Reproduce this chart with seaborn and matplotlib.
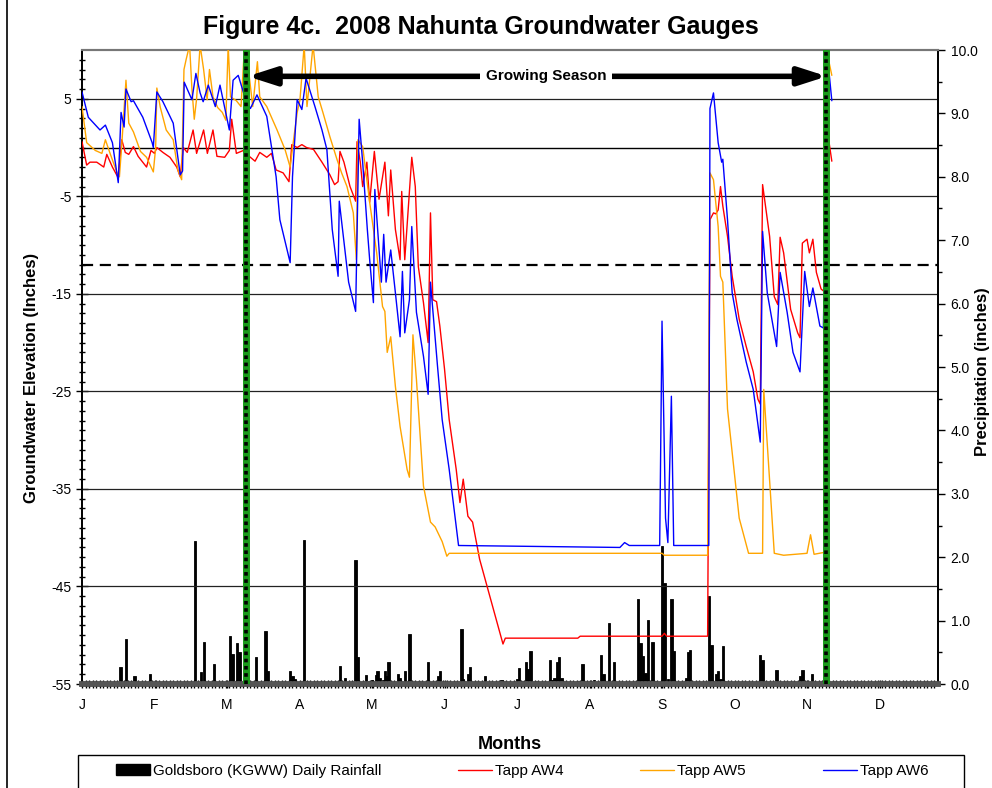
import numpy as np
import pandas as pd
import matplotlib
matplotlib.use('Agg')
import matplotlib.pyplot as plt
from matplotlib.lines import Line2D
from matplotlib.patches import Patch, Rectangle
import seaborn as sns

# Tapp AW4 (red) - day of year, groundwater elevation (inches)
aw4_day = [0, 2, 3.4, 6.3, 9.3, 10.6, 13, 15.5, 17, 18.5, 20, 22, 24, 27.6, 29.5, 31, 32, 34.6, 37.6, 40.5,
           42, 43.3, 45, 47.5, 49, 52, 53.6, 56, 57.7, 61, 63, 64, 66, 69, 71, 74, 76, 79, 81, 83,
           86, 88.5, 89.7, 92, 94, 96, 99, 102.6, 106, 108, 109.5, 110.3, 112, 114.6, 117, 117.6, 119, 120, 121.8, 123,
           125, 127, 129.5, 131, 132, 134, 136, 136.7, 138, 141, 142.5, 143.8, 146, 148, 149, 150, 151.6, 153, 155, 157,
           160, 161.6, 163, 165, 167, 170, 180, 181, 212, 213, 248, 249, 250, 267.5, 268.5, 270, 271, 272, 273, 274,
           276, 278, 281, 284, 287, 289, 290, 291, 294, 296, 297.5, 298.5, 300, 303, 306, 307, 308, 310, 311, 312.5,
           314, 316, 317.5, 318.5, 319.5, 320.6]
aw4_val = [0.6, -1.8, -1.5, -1.5, -2.0, -0.7, -2.0, -3.1, 0.8, -0.5, -0.7, 0.1, -0.9, -2.0, -0.3, -0.6, 0.0, -0.5, -1.0, -2.0,
           -3.0, 0.0, -0.5, 1.8, -0.6, 1.8, -0.6, 1.8, -0.9, -1.0, -0.3, 2.9, -0.6, -0.3, -0.8, -1.4, -0.5, -1.0, -0.6, -2.3,
           -2.6, -3.5, 0.3, 0.0, 0.3, 0.0, -0.2, -1.5, -2.8, -3.8, -3.5, -0.4, -1.5, -4.0, -5.5, 0.6, -1.5, -4.0, -1.5, -5.6,
           -0.4, -5.3, -1.5, -7.0, -2.3, -8.4, -11.5, -4.5, -11.5, -1.0, -4.0, -12.2, -15.9, -20.0, -6.7, -15.6, -15.8, -18.3, -22.7, -27.9,
           -33.0, -36.4, -34.0, -37.8, -38.4, -42.2, -50.9, -50.3, -50.3, -50.1, -50.1, -49.8, -50.1, -50.1, -7.4, -6.7, -6.8, -6.4, -4.0, -6.0,
           -9.1, -13.2, -17.6, -20.4, -23.0, -25.8, -26.3, -3.8, -9.1, -15.3, -16.1, -9.2, -10.8, -16.6, -19.0, -19.5, -9.8, -9.4, -10.8, -9.4,
           -12.8, -14.5, -14.8, 3.3, 0.4, -1.4]

# Tapp AW5 (orange)
aw5_day = [0, 2, 5.7, 8.5, 10, 12, 15, 16, 17, 18.8, 20, 22, 23.5, 25, 27.6, 30.5, 31.5, 32, 33.5, 36,
           39, 41, 42.6, 43.6, 44.5, 46, 47, 48, 49, 50.5, 52, 53.5, 54.5, 56, 58, 60, 61.5, 62.5, 63.5, 66,
           68, 69.5, 70, 73, 75, 76, 79, 83.4, 86.8, 89, 90.2, 92, 93.2, 95, 96.2, 98.8, 101, 103, 106, 109,
           111, 113.3, 116, 117.3, 118, 120, 123, 126, 128.5, 129.5, 130.5, 132, 134, 136, 139, 140, 141.5, 143, 146, 149,
           151, 154, 156, 157, 248, 249, 267.5, 268.5, 270, 272, 273, 274, 276, 281, 285, 291, 291.5, 296, 300, 310,
           311.5, 313, 317.5, 318.5, 320.6]
aw5_val = [4.2, 0.5, -0.3, -0.6, 0.8, -0.6, -2.6, -3.0, 0.3, 6.9, 2.5, 1.6, 0.6, -0.4, -1.0, -2.5, 0.0, 6.1, 4.1, 1.8,
           0.8, -2.3, -3.3, 8.0, 9.0, 10.5, 6.0, 2.9, 5.0, 10.5, 8.0, 4.9, 8.0, 5.2, 4.1, 3.6, 2.8, 10.5, 5.2, 4.8,
           4.2, 10.5, 10.5, 4.2, 8.8, 5.2, 4.2, 1.8, -0.2, -2.0, 0.3, 3.6, 4.9, 10.5, 4.2, 10.5, 5.2, 3.6, 1.1, -1.2,
           -2.6, -4.0, -6.7, -11.5, 0.8, 0.1, -5.6, -10.8, -16.3, -16.8, -21.0, -19.4, -24.5, -28.6, -33.0, -33.8, -19.2, -23.8, -34.7, -38.4,
           -38.9, -40.4, -41.9, -41.6, -41.6, -41.8, -41.8, -2.6, -3.3, -8.1, -13.2, -13.8, -26.8, -38.0, -41.6, -41.6, -24.8, -41.6, -41.8, -41.6,
           -39.7, -41.7, -41.5, 9.8, 7.4]

# Tapp AW6 (blue)
aw6_day = [0, 2.7, 7.7, 10, 13, 15.5, 16.7, 18, 18.8, 21, 22, 26, 30, 30.5, 32, 34.6, 39, 42, 43, 43.7,
           47, 48.7, 50.5, 51.8, 54, 57, 59, 63, 64.6, 66.8, 70, 72, 74.8, 79, 83, 84.6, 89, 90, 92, 94,
           95.8, 99.6, 102.6, 104.7, 107, 109.5, 110, 114, 117, 118.5, 120, 122, 123, 124.6, 125.2, 128, 129, 130, 132, 134,
           136, 137, 138, 140, 141, 143, 146, 148, 149, 152, 154, 157, 161, 230, 232, 234, 247, 248, 249.5, 250.5,
           252, 253, 268, 268.5, 270, 272, 273.5, 274, 276, 278, 280, 284, 287, 290, 291, 293, 297, 298.5, 301.5, 304,
           307, 309, 311, 312.5, 315.5, 317, 318.5, 319.5, 320.6]
aw6_val = [5.7, 3.1, 1.8, 2.3, 0.5, -3.6, 3.6, 2.1, 6.0, 4.7, 4.8, 3.1, 0.5, 0.0, 5.7, 4.7, 2.5, -2.8, -2.4, 6.7,
           4.9, 7.6, 5.6, 4.7, 6.4, 4.2, 6.4, 1.8, 6.9, 7.4, 4.9, 4.0, 5.4, 3.2, -3.0, -7.4, -11.8, -3.0, 4.9, 3.9,
           7.1, 4.2, 1.8, -0.2, -8.4, -13.2, -5.5, -13.8, -16.8, 2.9, -1.5, -8.4, -11.5, -15.9, -4.3, -13.8, -8.9, -13.8, -10.5, -14.9,
           -19.4, -12.7, -19.0, -15.6, -8.1, -16.9, -21.4, -25.3, -13.8, -22.4, -27.9, -33.0, -40.8, -41.0, -40.5, -40.8, -40.8, -17.8, -38.0, -40.5,
           -25.5, -40.8, -40.8, 4.0, 5.6, 0.5, -1.5, -1.2, -7.4, -14.9, -17.6, -22.0, -24.8, -30.2, -8.6, -14.9, -20.4, -12.8, -16.9, -21.0,
           -23.0, -12.7, -16.3, -14.4, -18.3, -18.5, 5.0, 7.5, 4.8]

# Goldsboro (KGWW) daily rainfall (inches)
rain_day = [16.5, 18.7, 21.5, 22.5, 29, 37, 48.3, 51, 52.3, 53.5, 56.3, 60.5, 63.3, 64.4, 66.4, 67.4, 74.4, 76, 78.5, 79.3,
            89, 90, 91, 93.5, 95, 96, 110.3, 112.5, 113.5, 117, 118, 120, 121.4, 122.3, 124, 125.6, 126.4, 127.4, 128.6, 129.5,
            130.2, 131, 133, 135, 136, 138, 140, 144, 148, 152.3, 153, 162.3, 163, 165, 166, 172.3, 179.4, 186, 186.8, 188.5,
            189.8, 190.8, 191.8, 194, 200, 201, 202, 203, 204, 205, 212, 214, 219, 222, 223, 225.3, 227.5, 237.8, 238.8, 240,
            241, 242, 243, 244, 245.5, 248, 249, 250.5, 252, 253, 258.5, 259.3, 260, 264.5, 268, 269.2, 271, 272, 273, 274,
            275, 283, 290, 291, 297, 307, 308, 312, 318.5, 327]
rain_val = [0.27, 0.71, 0.05, 0.12, 0.16, 0.03, 2.26, 0.19, 0.67, 0.03, 0.31, 0.03, 0.76, 0.48, 0.65, 0.50, 0.43, 0.03, 0.84, 0.2,
            0.2, 0.12, 0.08, 0.05, 2.27, 0.05, 0.28, 0.1, 0.03, 1.96, 0.43, 0.03, 0.14, 0.04, 0.06, 0.14, 0.2, 0.1, 0.06, 0.2,
            0.13, 0.35, 0.03, 0.16, 0.1, 0.2, 0.79, 0.05, 0.35, 0.13, 0.2, 0.86, 0.08, 0.16, 0.27, 0.12, 0.06, 0.08, 0.26, 0.04,
            0.35, 0.23, 0.52, 0.04, 0.38, 0.06, 0.1, 0.34, 0.42, 0.1, 0.04, 0.31, 0.06, 0.45, 0.16, 0.97, 0.35, 1.34, 0.65, 0.44,
            0.18, 1.01, 0.04, 0.67, 0.04, 2.18, 1.6, 0.08, 1.34, 0.52, 0.1, 0.51, 0.54, 0.02, 1.39, 0.62, 0.15, 0.2, 0.08, 0.6,
            0.04, 0.02, 0.46, 0.38, 0.22, 0.13, 0.22, 0.15, 0.38, 0.02]

month_ticks = [0, 31, 62, 93, 124, 155, 186, 217, 248, 279, 310, 341]
month_labels = ['J', 'F', 'M', 'A', 'M', 'J', 'J', 'A', 'S', 'O', 'N', 'D']
season_start, season_end = 70, 318

sns.set_theme(style='white')
plt.rcParams['font.family'] = ['Liberation Sans', 'DejaVu Sans']
plt.rcParams.update({'text.color': 'black', 'axes.labelcolor': 'black',
                     'xtick.color': 'black', 'ytick.color': 'black'})

fig = plt.figure(figsize=(9.92, 7.88), dpi=100)
ax = fig.add_axes([82/992, 1-684/788, (938-82)/992, (684-50)/788])
ax2 = ax.twinx()

# rainfall bars on the right axis, behind the gauges
ax2.bar(rain_day, rain_val, width=1.0, color='black', edgecolor='black', linewidth=0.6, zorder=2)
ax2.set_ylim(0, 10)
ax2.set_yticks(np.arange(0, 10.01, 1.0))
ax2.set_yticklabels([f'{v:.1f}' for v in np.arange(0, 10.01, 1.0)], fontsize=10)
ax2.set_yticks(np.arange(0, 10.01, 0.5), minor=True)
ax2.tick_params(axis='y', which='major', direction='out', length=5, width=1, color='black', right=True, pad=4)
ax2.tick_params(axis='y', which='minor', direction='out', length=3, width=1, color='black', right=True)
ax2.set_ylabel('Precipitation (inches)', fontsize=12, fontweight='bold')
ax2.yaxis.set_label_coords((975-82)/856, 0.492)

ax.set_zorder(ax2.get_zorder() + 1)
ax.patch.set_visible(False)

# horizontal reference lines
for g in [5, -5, -15, -25, -35, -45]:
    ax.axhline(g, color='#222222', lw=0.9, zorder=1)
ax.axhline(0, color='black', lw=1.0, zorder=1)
ax.axhline(-12, color='black', lw=1.6, ls=(0, (5, 3)), zorder=1)

sns.lineplot(x=aw4_day, y=aw4_val, ax=ax, color='red', lw=1.0, sort=False, estimator=None, zorder=3)
sns.lineplot(x=aw5_day, y=aw5_val, ax=ax, color='orange', lw=1.0, sort=False, estimator=None, zorder=3)
sns.lineplot(x=aw6_day, y=aw6_val, ax=ax, color='blue', lw=1.0, sort=False, estimator=None, zorder=3)

# growing season limits
for d in [season_start, season_end]:
    ax.axvline(d, color='#1a9a1a', lw=5, zorder=4)
    ax.axvline(d, color='black', lw=2.6, ls=(0, (1, 1)), zorder=5)

ax.annotate('', xy=(season_start + 0.8, 7.3), xytext=(season_end + 0.5, 7.3),
            arrowprops=dict(arrowstyle='<|-|>,head_width=0.45,head_length=1.4', lw=4, color='black',
                            shrinkA=0, shrinkB=0), zorder=6)
ax.text(198.5, 7.3, 'Growing Season', ha='center', va='center', fontsize=11, fontweight='bold', zorder=7,
        bbox=dict(facecolor='white', edgecolor='none', pad=4))

ax.set_xlim(0, 366)
ax.set_ylim(-55, 10)
ax.set_yticks(np.arange(-55, 6, 10))
ax.set_yticklabels([str(v) for v in np.arange(-55, 6, 10)], fontsize=10)
ax.set_yticks(np.arange(-55, 10, 1), minor=True)
ax.tick_params(axis='y', which='major', direction='inout', length=8, width=1, color='black', left=True)
ax.tick_params(axis='y', which='minor', direction='inout', length=5, width=1, color='black', left=True)
ax.set_xticks(month_ticks)
ax.set_xticklabels(month_labels, fontsize=10)
ax.set_xticks(np.arange(0, 366, 1.5), minor=True)
ax.tick_params(axis='x', which='major', direction='inout', length=6, width=1, color='black', bottom=True, pad=7)
ax.tick_params(axis='x', which='minor', direction='inout', length=6, width=1.0, color='black', bottom=True)
ax2.set_xlim(0, 366)

for a in (ax, ax2):
    a.spines['top'].set_color('#777777')
    a.spines['top'].set_linewidth(1.5)
    a.spines['bottom'].set_color('#555555')
    a.spines['bottom'].set_linewidth(4)
    a.spines['left'].set_color('black')
    a.spines['right'].set_color('black')

ax.set_xlabel('Months', fontsize=13, fontweight='bold')
ax.xaxis.set_label_coords(0.5, -(736-684)/634)
ax.set_ylabel('Groundwater Elevation (Inches)', fontsize=12, fontweight='bold')
ax.yaxis.set_label_coords(-(82-39)/856, (684-378)/634)

fig.text(481/992, 1-27/788, 'Figure 4c.  2008 Nahunta Groundwater Gauges', ha='center', va='center',
         fontsize=18, fontweight='bold')

# legend box with the four entries laid out as in the original
fig.add_artist(Rectangle((78/992, -0.01), (964-78)/992, (788-755)/788 + 0.01, transform=fig.transFigure,
                         facecolor='none', edgecolor='black', lw=1))
handles = [Patch(facecolor='black', edgecolor='black'),
           Line2D([], [], color='red', lw=1),
           Line2D([], [], color='orange', lw=1),
           Line2D([], [], color='blue', lw=1)]
labels = ['Goldsboro (KGWW) Daily Rainfall', 'Tapp AW4', 'Tapp AW5', 'Tapp AW6']
for h, lab, x0 in zip(handles, labels, [116, 458, 640, 823]):
    fig.legend([h], [lab], loc='center left', bbox_to_anchor=(x0/992, 1-771/788), fontsize=11,
               frameon=False, handlelength=2.2, handleheight=0.7, handletextpad=0.25,
               borderpad=0, borderaxespad=0)

fig.add_artist(Line2D([6.5/992, 6.5/992], [0, 1], color='black', lw=1.2))

fig.savefig('out.png', dpi=100)
